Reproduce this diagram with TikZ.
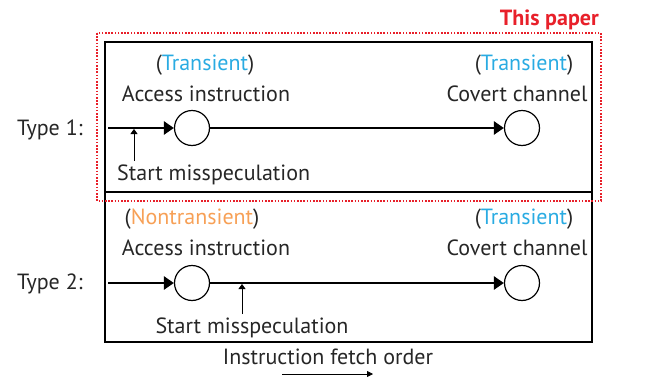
\documentclass[tikz,border=0pt]{standalone}
\usepackage{fontspec}
\setmainfont{PT Sans}
\usetikzlibrary{arrows.meta}
\definecolor{transblue}{RGB}{41,171,226}
\definecolor{nontransorange}{RGB}{247,160,86}
\definecolor{paperred}{RGB}{232,32,42}
\begin{document}
\begin{tikzpicture}[x=1pt,y=-1pt,
  lbl/.style={font=\fontsize{22}{24}\selectfont, inner sep=0pt, text=black!85},
  stage/.style={circle, draw, line width=1.2pt, minimum size=35pt, inner sep=0pt},
  flow/.style={line width=2.6pt, -{Triangle[length=10pt,width=13pt]}},
  misspec/.style={line width=0.8pt, -{Triangle[length=5pt,width=7pt]}},
  frame/.style={draw, line width=1.4pt}
]
\useasboundingbox (0,0) rectangle (665,378);

% boxes for the two attack types
\draw[frame] (105,42) rectangle (592,192);
\draw[frame] (105,192) rectangle (592,342);
% highlighted region
\draw[paperred, dash pattern=on 1.6pt off 1.6pt, line width=1.2pt] (97,33) rectangle (601,201);
\node[anchor=east, inner sep=0pt, text=paperred, font=\fontsize{22}{24}\selectfont\bfseries] (paper) at (599,20) {This paper};

% Type 1
\node[lbl, anchor=west] (t1) at (17,130) {Type 1:};
\coordinate (s1) at (108,128);
\node[stage] (a1) at (192,128) {};
\node[stage] (c1) at (522,128) {};
\draw[flow] (s1) -- (a1);
\draw[flow] (a1) -- (c1);
\node[lbl] (ta1) at (205,65) {(\textcolor{transblue}{Transient})};
\node[lbl] (ai1) at (206,94) {Access instruction};
\node[lbl] (tc1) at (524,65) {(\textcolor{transblue}{Transient})};
\node[lbl] (cc1) at (517,94) {Covert channel};
\node[lbl, anchor=west] (sm1) at (117,175) {Start misspeculation};
\coordinate (m1) at (134,161);
\coordinate (p1) at (134,129);
\draw[misspec] (m1) -- (p1);

% Type 2
\node[lbl, anchor=west] (t2) at (17,284) {Type 2:};
\coordinate (s2) at (108,283);
\node[stage] (a2) at (192,283) {};
\node[stage] (c2) at (522,283) {};
\draw[flow] (s2) -- (a2);
\draw[flow] (a2) -- (c2);
\node[lbl] (ta2) at (192,219) {(\textcolor{nontransorange}{Nontransient})};
\node[lbl] (ai2) at (206,248) {Access instruction};
\node[lbl] (tc2) at (524,219) {(\textcolor{transblue}{Transient})};
\node[lbl] (cc2) at (517,248) {Covert channel};
\node[lbl] (sm2) at (252,328) {Start misspeculation};
\coordinate (m2) at (242,314);
\coordinate (p2) at (242,284);
\draw[misspec] (m2) -- (p2);

% fetch order legend
\node[lbl] (fo) at (328,357) {Instruction fetch order};
\coordinate (fa) at (282,374);
\coordinate (fb) at (373,374);
\draw[line width=0.8pt, -{Triangle[length=6pt,width=6pt]}] (fa) -- (fb);
\end{tikzpicture}
\end{document}
